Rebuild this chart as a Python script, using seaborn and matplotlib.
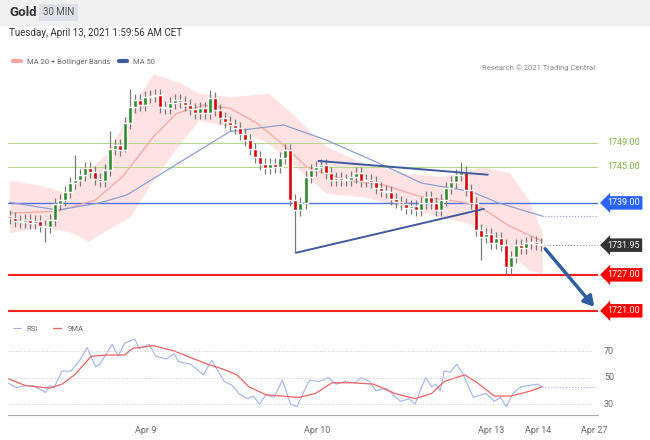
import numpy as np
import pandas as pd
import seaborn as sns
import matplotlib.pyplot as plt
from matplotlib.patches import Rectangle

# 30-min closes
closes = [1736.5, 1736.0, 1735.8, 1736.2, 1735.6, 1735.9, 1735.2, 1735.0,
          1736.2, 1738.8,
          1739.5, 1740.8, 1742.3, 1742.8, 1743.6, 1744.8,
          1744.2, 1743.0, 1742.6, 1744.5,
          1748.0, 1748.6, 1747.8, 1752.3,
          1755.0, 1756.2, 1755.3, 1756.7,
          1756.9, 1757.0, 1755.0, 1754.9,
          1755.7, 1756.2, 1755.8, 1755.3,
          1754.6, 1754.0, 1754.8, 1754.0,
          1756.5, 1754.5, 1753.2, 1752.5,
          1752.0, 1751.5, 1750.5, 1749.5,
          1748.0, 1746.7, 1745.5, 1744.8,
          1745.5, 1745.0, 1746.5, 1747.8,
          1739.5, 1737.8, 1739.0, 1743.3,
          1744.5, 1745.0, 1745.3, 1744.0,
          1742.8, 1743.2, 1742.8, 1742.8,
          1743.3, 1744.0, 1742.6, 1742.8,
          1742.5, 1741.5, 1741.0, 1740.8,
          1739.6, 1739.2, 1738.8, 1738.2,
          1738.5, 1737.8, 1739.0, 1740.0,
          1739.0, 1737.8, 1739.5, 1741.5,
          1742.5, 1743.7, 1744.2, 1741.2,
          1739.0, 1734.5, 1733.3, 1733.8,
          1732.3, 1733.2, 1732.0, 1728.3,
          1730.0, 1732.0, 1731.5, 1732.3,
          1732.5, 1732.2, 1731.95]
first_open = 1736.8
long_lows = {7: 1732.5, 23: 1747.5, 57: 1730.7, 94: 1729.5, 99: 1727.0, 100: 1727.2}
long_highs = {13: 1747.0, 20: 1751.0, 24: 1758.0, 40: 1757.8, 90: 1745.8}

# indicator lines (x in bar units)
ma20_x = [-0.1, 9.5, 17.1, 22.5, 28.6, 33.2, 38.6, 43.9, 49.3, 54.6, 59.2, 66.9, 74.5, 82.2,
          89.8, 93.7, 99.8, 106.3]
ma20_y = [1737.3, 1737.6, 1739.5, 1743.4, 1750.0, 1753.9, 1755.3, 1754.8, 1752.3, 1748.7,
          1745.0, 1742.8, 1742.0, 1740.0, 1739.2, 1738.4, 1735.1, 1732.6]
band_x = [-0.1, 5.7, 11.8, 15.6, 19.4, 24.0, 28.6, 34.0, 37.8, 43.9, 51.6, 56.2, 63.1, 70.7,
          78.4, 86.0, 94.4, 99.8, 103.6, 106.3]
band_up = [1742.8, 1742.0, 1740.6, 1744.5, 1747.3, 1754.5, 1760.6, 1759.0, 1757.3, 1756.7,
           1757.3, 1754.0, 1748.4, 1745.6, 1744.0, 1743.4, 1745.0, 1744.0, 1739.5, 1734.0]
band_lo = [1734.0, 1735.0, 1734.2, 1732.6, 1734.5, 1736.7, 1742.8, 1749.0, 1752.8, 1751.7,
           1749.0, 1745.6, 1740.6, 1740.0, 1738.4, 1736.7, 1735.0, 1730.6, 1727.8, 1727.3]
ma50_x = [-0.1, 9.5, 17.9, 23.3, 32.4, 43.9, 54.6, 63.1, 74.5, 82.2, 92.1, 97.5, 106.3]
ma50_y = [1739.1, 1737.8, 1739.0, 1740.3, 1745.0, 1750.9, 1752.0, 1749.5, 1745.3, 1742.3,
          1740.9, 1739.0, 1736.8]

rsi_x = [-0.3, 1.3, 3.0, 4.6, 5.9, 7.1, 7.9, 8.8, 10.4, 12.1, 13.8, 14.6, 15.4, 17.1, 17.9,
         20.4, 21.6, 22.9, 24.9, 25.8, 27.8, 29.1, 31.2, 32.8, 33.6, 36.1, 38.6, 40.3, 41.5,
         42.8, 44.4, 45.7, 47.3, 48.6, 49.8, 51.1, 52.7, 54.4, 56.0, 57.3, 58.5, 59.8, 61.8,
         63.5, 65.1, 66.8, 68.9, 70.1, 71.8, 73.0, 75.1, 76.8, 78.0, 79.7, 80.9, 82.1, 83.0,
         84.2, 85.0, 85.9, 86.7, 87.9, 89.2, 90.4, 92.5, 95.0, 96.7, 97.9, 99.1, 100.4, 102.0,
         103.7, 105.4, 106.2]
rsi_y = [45.6, 42.3, 43.8, 43.8, 41.3, 38.7, 43.8, 42.3, 55.1, 54.6, 62.3, 67.4, 72.6, 58, 60,
         75, 66, 76, 79, 72, 75, 66, 64, 68, 62, 60, 52, 63, 55, 47, 44, 38, 34, 36, 30, 37, 35,
         48, 30, 28, 38, 48, 47, 50, 45, 47, 46, 50, 47, 40, 42, 36, 32, 34, 30, 42, 50, 43, 45,
         40, 55, 54, 60, 53, 35, 38, 32, 35, 28, 38, 43, 44, 45, 43]
rsima_x = [-0.3, 3.0, 7.9, 10.4, 12.9, 16.2, 19.6, 22.9, 24.5, 28.7, 32.8, 36.1, 39.5, 42.8,
           45.3, 47.7, 51.1, 54.4, 57.7, 61.0, 64.3, 68.5, 72.6, 76.8, 80.9, 84.2, 86.7, 90.8,
           93.3, 96.7, 100.0, 104.1, 106.2]
rsima_y = [49, 44, 42, 45, 52, 66, 67, 67, 72, 74, 70, 65, 60, 56, 52, 43, 37, 36, 35, 38, 46,
           46, 45, 38, 34, 38, 47, 52, 46, 36, 36, 40, 43]

levels_green = [1749.0, 1745.0]
level_blue = 1739.0
levels_red = [1727.0, 1721.0]
last_price = 1731.95

tick_pos = [27, 61.4, 96, 105.4, 116.6]
tick_lab = ['Apr 9', 'Apr 10', 'Apr 13', 'Apr 14', 'Apr 27']

n = len(closes)
idx = np.arange(n)
c = pd.Series(closes)
o = c.shift(1).fillna(first_open)
hi = np.maximum(o, c) + 1.0
lo = np.minimum(o, c) - 1.0
for k, v in long_lows.items():
    lo[k] = v
for k, v in long_highs.items():
    hi[k] = v

sns.set_style('white')
plt.rcParams['font.family'] = ['Roboto', 'DejaVu Sans']
fig = plt.figure(figsize=(6.5, 4.4), dpi=100)
fig.patches.append(Rectangle((0, 1 - 25 / 440), 1, 25 / 440, transform=fig.transFigure,
                             color='#f1f1f1', zorder=0))
fig.text(0.014, 0.972, 'Gold', fontsize=9.5, fontweight='bold', color='#333333', va='center')
fig.text(0.066, 0.972, '30 MIN', fontsize=7, color='#555555', va='center',
         bbox=dict(boxstyle='square,pad=0.35', fc='#dde0e6', ec='none'))
fig.text(0.014, 0.925, 'Tuesday, April 13, 2021 1:59:56 AM CET', fontsize=7, color='#333333', va='center')

ax = fig.add_axes([8 / 650, 1 - 318 / 440, 590 / 650, 256 / 440])
ax2 = fig.add_axes([8 / 650, 1 - 415 / 440, 590 / 650, 93 / 440])
xmin, xmax = -0.4, 117.4

# bollinger bands and moving averages
ax.fill_between(band_x, band_lo, band_up, color='#ffdede', alpha=0.85, lw=0, zorder=1)
sns.lineplot(x=ma20_x, y=ma20_y, ax=ax, color='#f4a6a0', lw=0.9, zorder=2)
sns.lineplot(x=ma50_x, y=ma50_y, ax=ax, color='#8c9fd0', lw=0.9, zorder=2)
ax.plot([ma50_x[-1], xmax], [ma50_y[-1]] * 2, ls=':', color='#8c9fd0', lw=0.8)

for lv in levels_green:
    ax.axhline(lv, color='#b5d98c', lw=0.8, zorder=1)
ax.axhline(level_blue, color='#4f73e0', lw=1.0, zorder=1)
for lv in levels_red:
    ax.axhline(lv, color='#ff2020', lw=1.5, zorder=1)
ax.plot([n - 1, xmax], [last_price] * 2, ls=':', color='#999999', lw=0.8)

# candles
cols = np.where(c >= o, '#2e8b2e', '#dd0000')
ax.vlines(idx, lo, hi, color='#7a7a7a', lw=0.9, zorder=3)
ax.bar(idx, (c - o).abs().clip(lower=0.15), bottom=np.minimum(o, c), width=0.8, color=cols, zorder=4)

# trendlines and arrow
ax.plot([61.6, 95.4], [1746.0, 1743.7], color='#3f5a9e', lw=1.4, zorder=5)
ax.plot([57.2, 94.6], [1730.7, 1738.0], color='#3f5a9e', lw=1.4, zorder=5)
ax.annotate('', xy=(117, 1721.3), xytext=(106.5, 1731.7),
            arrowprops=dict(arrowstyle='-|>,head_width=0.35,head_length=0.6', color='#2f5d9e', lw=2.5))

ax.set_xlim(xmin, xmax)
ax.set_ylim(1719.8, 1762.5)
ax.set_xticks([])
ax.set_yticks([])
for s in ax.spines.values():
    s.set_visible(False)

lab_x = 1.016
for lv in levels_green:
    ax.text(lab_x, lv, f'{lv:.2f}', transform=ax.get_yaxis_transform(), color='#7cb342',
            fontsize=6.5, va='center')
for lv, fc in [(level_blue, '#2962ff'), (last_price, '#333333')] + [(v, '#ff0000') for v in levels_red]:
    ax.text(lab_x, lv, f'{lv:.2f}', transform=ax.get_yaxis_transform(), color='white',
            fontsize=6.5, va='center', bbox=dict(boxstyle='larrow,pad=0.25', fc=fc, ec='none'))

ax.plot([], [], color='#f4a6a0', lw=3, label='MA 20 + Bollinger Bands')
ax.plot([], [], color='#3f5a9e', lw=3, label='MA 50')
h, l = ax.get_legend_handles_labels()
ax.legend(h[-2:], l[-2:], loc='upper left', bbox_to_anchor=(-0.003, 1.04), ncol=2, frameon=False,
          fontsize=5.5, handlelength=1, columnspacing=1.2, labelcolor='#666666')
ax.text(0.995, 0.99, 'Research © 2021 Trading Central', transform=ax.transAxes, ha='right',
        va='top', fontsize=5.5, color='#888888')

# RSI panel
sns.lineplot(x=rsi_x, y=rsi_y, ax=ax2, color='#9db3f0', lw=0.8, label='RSI')
sns.lineplot(x=rsima_x, y=rsima_y, ax=ax2, color='#f06060', lw=0.9, label='9MA')
ax2.plot([rsi_x[-1], 117], [rsi_y[-1]] * 2, ls=':', color='#9db3f0', lw=0.8)
for lv in [70, 50, 30]:
    ax2.axhline(lv, ls=':', color='#cccccc', lw=0.7, xmax=0.99)
    ax2.text(1.01, lv, str(lv), transform=ax2.get_yaxis_transform(), fontsize=6.5, color='#666666',
             va='center')
ax2.set_xlim(xmin, xmax)
ax2.set_ylim(21.7, 91.9)
ax2.set_yticks([])
ax2.set_xticks(tick_pos)
ax2.set_xticklabels(tick_lab, fontsize=6.5, color='#666666')
ax2.tick_params(axis='x', length=4, color='#aaaaaa', pad=4)
for s in ['top', 'right', 'left']:
    ax2.spines[s].set_visible(False)
ax2.spines['bottom'].set_color('#aaaaaa')
ax2.legend(loc='upper left', bbox_to_anchor=(-0.003, 1.04), ncol=2, frameon=False, fontsize=5.5,
           handlelength=1, labelcolor='#666666')
ax2.set_xlabel('')
ax2.set_ylabel('')
ax.set_xlabel('')
ax.set_ylabel('')

fig.savefig('out.png', dpi=100)
